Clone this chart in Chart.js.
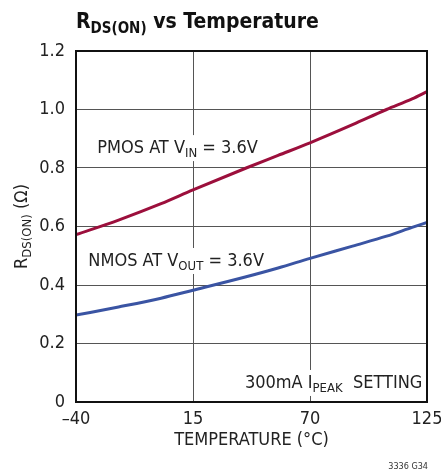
<!DOCTYPE html>
<html>
<head>
<meta charset="utf-8">
<script src="https://cdn.jsdelivr.net/npm/chart.js@4/dist/chart.umd.min.js"></script>
<style>
  html, body { margin: 0; padding: 0; background: #fff; }
  canvas { display: block; }
</style>
</head>
<body>
<canvas id="chart" width="441" height="471"></canvas>
<script>
// values
const temperature = [-40, -20, 0, 15, 40, 55, 70, 90, 106, 118, 125];
const pmos = [0.572, 0.622, 0.678, 0.725, 0.800, 0.843, 0.886, 0.948, 1.000, 1.036, 1.061];
const nmos = [0.297, 0.325, 0.355, 0.382, 0.428, 0.458, 0.491, 0.533, 0.567, 0.597, 0.614];
const xTicks = [-40, 15, 70, 125];
const yTicks = [0, 0.2, 0.4, 0.6, 0.8, 1.0, 1.2];

const FONT = "'Liberation Sans Narrow', 'DejaVu Sans Condensed', sans-serif";
const TEXT = '#222';

// text with subscripts, drawn on the canvas
const notes = [
    { x: -30, y: 0.851, parts: [['PMOS AT V'], ['IN', 1], [' = 3.6V']] },
    { x: -34.2, y: 0.465, parts: [['NMOS AT V'], ['OUT', 1], [' = 3.6V']] },
    { x: 39.4, y: 0.048, parts: [['300mA I'], ['PEAK', 1], ['  SETTING']] },
];

function richWidth(ctx, parts, size, subSize, weight) {
    let w = 0;
    parts.forEach(p => {
        ctx.font = weight + ' ' + (p[1] ? subSize : size) + 'px ' + FONT;
        w += ctx.measureText(p[0]).width;
    });
    return w;
}

function drawRich(ctx, parts, x, y, size, subSize, weight, drop) {
    ctx.textBaseline = 'alphabetic';
    ctx.textAlign = 'left';
    parts.forEach(p => {
        ctx.font = weight + ' ' + (p[1] ? subSize : size) + 'px ' + FONT;
        ctx.fillText(p[0], x, p[1] ? y + drop : y);
        x += ctx.measureText(p[0]).width;
    });
}

const decorations = {
    id: 'decorations',
    beforeDatasetsDraw(chart) {
        const ctx = chart.ctx;
        const xs = chart.scales.x, ys = chart.scales.y;
        ctx.save();
        notes.forEach(n => {
            const px = xs.getPixelForValue(n.x);
            const py = ys.getPixelForValue(n.y);
            const w = richWidth(ctx, n.parts, 18, 13, 'normal');
            ctx.fillStyle = '#fff';
            ctx.fillRect(px - 5, py - 18, w + 10, 26);
            ctx.fillStyle = TEXT;
            drawRich(ctx, n.parts, px, py, 18, 13, 'normal', 4);
        });
        ctx.restore();
    },
    afterDatasetsDraw(chart) {
        const ctx = chart.ctx;
        const a = chart.chartArea;
        ctx.save();
        ctx.strokeStyle = '#111';
        ctx.lineWidth = 2;
        ctx.strokeRect(a.left, a.top, a.right - a.left, a.bottom - a.top);
        ctx.restore();
    },
    afterDraw(chart) {
        const ctx = chart.ctx;
        const a = chart.chartArea;
        ctx.save();
        ctx.fillStyle = '#111';
        drawRich(ctx, [['R'], ['DS(ON)', 1], [' vs Temperature']], a.left, 28, 21, 15, 'bold', 5);

        ctx.fillStyle = TEXT;
        const yTitle = [['R'], ['DS(ON)', 1], [' (\u03A9)']];
        const w = richWidth(ctx, yTitle, 18, 13, 'normal');
        ctx.translate(27, (a.top + a.bottom) / 2);
        ctx.rotate(-Math.PI / 2);
        drawRich(ctx, yTitle, -w / 2, 0, 18, 13, 'normal', 4);
        ctx.restore();

        ctx.save();
        ctx.fillStyle = '#333';
        ctx.font = '9px ' + FONT;
        ctx.textAlign = 'right';
        ctx.textBaseline = 'alphabetic';
        ctx.fillText('3336 G34', a.right + 1, 469);
        ctx.restore();
    },
};

new Chart(document.getElementById('chart').getContext('2d'), {
    type: 'line',
    data: {
        datasets: [
            {
                label: 'PMOS',
                data: temperature.map((t, i) => ({ x: t, y: pmos[i] })),
                borderColor: '#9c0f3c',
                borderWidth: 3,
                pointRadius: 0,
                cubicInterpolationMode: 'monotone',
            },
            {
                label: 'NMOS',
                data: temperature.map((t, i) => ({ x: t, y: nmos[i] })),
                borderColor: '#3a54a3',
                borderWidth: 3,
                pointRadius: 0,
                cubicInterpolationMode: 'monotone',
            },
        ],
    },
    options: {
        responsive: false,
        animation: false,
        devicePixelRatio: 1,
        layout: {
            padding: { top: 51, right: 14, left: 0, bottom: 0 },
        },
        plugins: {
            legend: { display: false },
            tooltip: { enabled: false },
        },
        scales: {
            x: {
                type: 'linear',
                min: -40,
                max: 125,
                afterBuildTicks: axis => {
                    axis.ticks = xTicks.map(v => ({ value: v }));
                },
                afterFit: scale => {
                    scale.height = 69;
                    scale.paddingLeft = 0;
                    scale.paddingRight = 0;
                },
                ticks: {
                    color: TEXT,
                    font: { family: FONT, size: 18 },
                    padding: 7,
                    maxRotation: 0,
                    callback: v => (v < 0 ? '\u2013' + Math.abs(v) : String(v)),
                },
                grid: {
                    color: '#555',
                    lineWidth: 1,
                    drawTicks: false,
                },
                border: { color: '#111', width: 2 },
                title: {
                    display: true,
                    text: 'TEMPERATURE (\u00B0C)',
                    color: TEXT,
                    font: { family: FONT, size: 18 },
                    padding: { top: 0, bottom: 20 },
                },
            },
            y: {
                min: 0,
                max: 1.2,
                afterBuildTicks: axis => {
                    axis.ticks = yTicks.map(v => ({ value: v }));
                },
                afterFit: scale => {
                    scale.width = 76;
                },
                ticks: {
                    color: TEXT,
                    font: { family: FONT, size: 18 },
                    padding: 11,
                    callback: v => (v === 0 ? '0' : v.toFixed(1)),
                },
                grid: {
                    color: '#555',
                    lineWidth: 1,
                    drawTicks: false,
                },
                border: { color: '#111', width: 2 },
            },
        },
    },
    plugins: [decorations],
});
</script>
</body>
</html>
